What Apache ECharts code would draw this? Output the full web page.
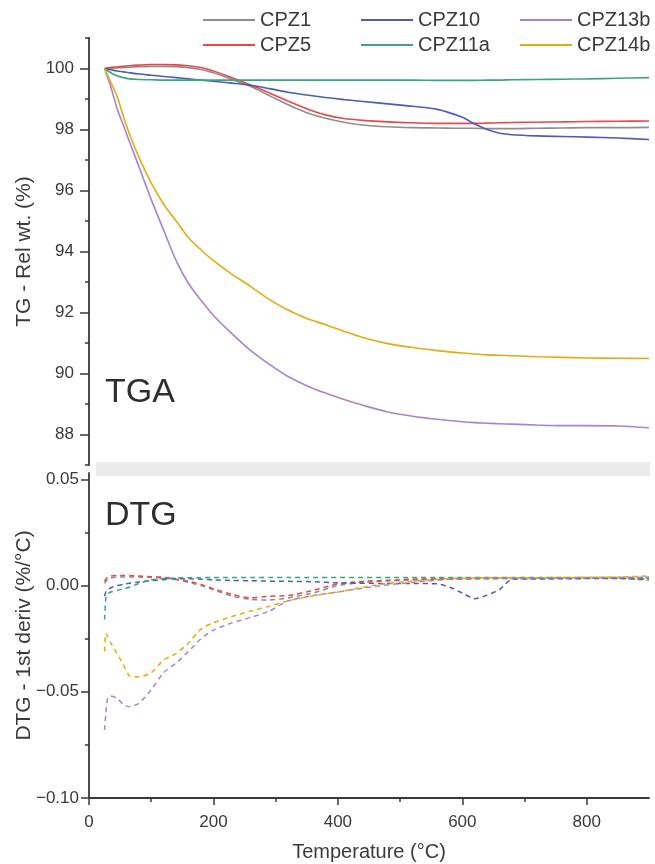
<!DOCTYPE html>
<html>
<head>
<meta charset="utf-8">
<script src="https://cdn.jsdelivr.net/npm/echarts@6/dist/echarts.min.js"></script>
<style>
  html, body { margin: 0; padding: 0; background: #fff; }
  #chart { width: 655px; height: 864px; }
</style>
</head>
<body>
<div id="chart"></div>
<script>
  // sample names (legend order) and colours
  const names = ['CPZ1', 'CPZ5', 'CPZ10', 'CPZ11a', 'CPZ13b', 'CPZ14b'];
  const colors = ['#8e8e8e', '#e8484a', '#4c5db6', '#3aa67c', '#a883d2', '#e3ac10'];

  // TGA: temperature (°C) and relative weight (%)
  const tgaTemp = [25, 35, 45, 55, 65, 80, 100, 120, 140, 160, 180, 200, 230, 260, 290, 320, 350, 380, 410, 440,
    480, 520, 560, 600, 620, 640, 660, 680, 720, 760, 800, 850, 900];
  const tgaCPZ1 = [100, 100.01, 100.02, 100.03, 100.04, 100.06, 100.07, 100.07, 100.06, 100.03, 99.97, 99.86, 99.64,
    99.41, 99.11, 98.81, 98.55, 98.37, 98.24, 98.15, 98.09, 98.06, 98.05, 98.04, 98.04, 98.03, 98.03, 98.03, 98.04,
    98.05, 98.06, 98.06, 98.07];
  const tgaCPZ5 = [100, 100.03, 100.05, 100.07, 100.09, 100.11, 100.13, 100.13, 100.12, 100.09, 100.03, 99.92, 99.7,
    99.46, 99.2, 98.93, 98.68, 98.48, 98.36, 98.3, 98.25, 98.22, 98.2, 98.2, 98.2, 98.21, 98.22, 98.23, 98.24, 98.25,
    98.26, 98.27, 98.28];
  const tgaCPZ10 = [100, 99.96, 99.92, 99.89, 99.86, 99.82, 99.78, 99.74, 99.7, 99.66, 99.62, 99.58, 99.52, 99.45,
    99.34, 99.22, 99.13, 99.05, 98.98, 98.92, 98.84, 98.76, 98.66, 98.4, 98.18, 98.0, 97.88, 97.83, 97.79, 97.77,
    97.75, 97.72, 97.67];
  const tgaCPZ11a = [100, 99.86, 99.76, 99.7, 99.66, 99.64, 99.63, 99.62, 99.62, 99.62, 99.62, 99.62, 99.62, 99.62,
    99.62, 99.62, 99.62, 99.62, 99.62, 99.62, 99.62, 99.62, 99.61, 99.61, 99.61, 99.62, 99.62, 99.63, 99.64, 99.65,
    99.66, 99.68, 99.7];
  const tgaCPZ13b = [100, 99.4, 98.7, 98.15, 97.6, 96.8, 95.7, 94.7, 93.7, 92.95, 92.4, 91.9, 91.3, 90.75, 90.3, 89.9,
    89.6, 89.36, 89.15, 88.96, 88.74, 88.6, 88.5, 88.42, 88.39, 88.37, 88.35, 88.34, 88.31, 88.29, 88.29, 88.28, 88.22];
  const tgaCPZ14b = [100, 99.55, 99.1, 98.45, 97.85, 97.1, 96.25, 95.55, 95.0, 94.45, 94.05, 93.7, 93.25, 92.85,
    92.42, 92.08, 91.8, 91.6, 91.38, 91.18, 90.98, 90.85, 90.75, 90.67, 90.64, 90.61, 90.6, 90.58, 90.55, 90.53,
    90.51, 90.5, 90.49];

  // DTG: first derivative (%/°C)
  const dtgTemp = [25, 27, 30, 35, 45, 55, 65, 80, 100, 120, 140, 160, 180, 200, 230, 260, 290, 320, 360, 400, 440,
    480, 520, 560, 580, 600, 620, 640, 660, 680, 720, 760, 800, 850, 900];
  const dtgCPZ1 = [0.001, 0.002, 0.003, 0.0035, 0.004, 0.004, 0.004, 0.004, 0.0038, 0.0035, 0.0028, 0.0015, 0,
    -0.002, -0.005, -0.0065, -0.0068, -0.0058, -0.0035, 0, 0.0015, 0.0022, 0.0026, 0.003, 0.003, 0.003, 0.0031,
    0.0031, 0.0032, 0.0032, 0.0033, 0.0033, 0.0034, 0.0034, 0.0025];
  const dtgCPZ5 = [0.002, 0.003, 0.004, 0.0045, 0.0047, 0.0047, 0.0047, 0.0045, 0.0042, 0.0039, 0.003, 0.002, 0.0005,
    -0.0015, -0.0042, -0.0058, -0.005, -0.0047, -0.0023, 0.0008, 0.002, 0.0025, 0.003, 0.0032, 0.0033, 0.0033,
    0.0034, 0.0034, 0.0035, 0.0035, 0.0035, 0.0036, 0.0037, 0.0036, 0.0035];
  const dtgCPZ10 = [-0.005, -0.003, -0.002, -0.001, 0, 0.0006, 0.0011, 0.0017, 0.0023, 0.0028, 0.0032, 0.0032, 0.003,
    0.0027, 0.0024, 0.0023, 0.0021, 0.002, 0.0018, 0.0013, 0.0011, 0.001, 0.001, 0.0008, -0.0008, -0.0035, -0.0062,
    -0.0045, -0.0018, 0.003, 0.0031, 0.0032, 0.0033, 0.0033, 0.003];
  const dtgCPZ11a = [-0.016, -0.006, -0.004, -0.003, -0.0023, -0.0015, -0.0008, 0.001, 0.0027, 0.0033, 0.0036, 0.0037,
    0.0037, 0.0038, 0.0038, 0.0038, 0.0038, 0.0038, 0.0038, 0.0038, 0.0038, 0.0038, 0.0038, 0.0038, 0.0038, 0.0038,
    0.0038, 0.0038, 0.0038, 0.0038, 0.0038, 0.0038, 0.0038, 0.0038, 0.0036];
  const dtgCPZ13b = [-0.068, -0.06, -0.053, -0.052, -0.053, -0.056, -0.057, -0.0555, -0.049, -0.041, -0.0365, -0.031,
    -0.025, -0.021, -0.0175, -0.015, -0.012, -0.0072, -0.0047, -0.003, -0.0012, 0.0003, 0.0015, 0.0025, 0.003,
    0.0032, 0.0033, 0.0034, 0.0035, 0.0035, 0.0035, 0.0036, 0.0037, 0.0038, 0.004];
  const dtgCPZ14b = [-0.031, -0.0225, -0.024, -0.027, -0.032, -0.037, -0.0425, -0.043, -0.041, -0.035, -0.032,
    -0.027, -0.0205, -0.0175, -0.0145, -0.012, -0.0097, -0.0072, -0.0048, -0.003, -0.0008, 0.001, 0.002, 0.003,
    0.0033, 0.0035, 0.0036, 0.0037, 0.0037, 0.0037, 0.0037, 0.0038, 0.0039, 0.004, 0.0045];

  // axis ticks
  const tgaMajor = [88, 90, 92, 94, 96, 98, 100];
  const tgaMinor = [87, 89, 91, 93, 95, 97, 99, 101];
  const dtgMajor = [-0.1, -0.05, 0, 0.05];
  const dtgMinor = [-0.075, -0.025, 0.025];
  const tempMajor = [0, 200, 400, 600, 800];
  const tempMinor = [100, 300, 500, 700];

  const tgaData = [tgaCPZ1, tgaCPZ5, tgaCPZ10, tgaCPZ11a, tgaCPZ13b, tgaCPZ14b];
  const dtgData = [dtgCPZ1, dtgCPZ5, dtgCPZ10, dtgCPZ11a, dtgCPZ13b, dtgCPZ14b];

  const axisColor = '#3a3a3a';
  const textColor = '#3a3a3a';
  const font = 'Liberation Sans, Arial, sans-serif';

  function pairs(xs, ys) {
    return xs.map((x, i) => [x, ys[i]]);
  }

  const series = [];
  names.forEach((n, i) => {
    series.push({
      name: n, type: 'line', xAxisIndex: 0, yAxisIndex: 0,
      symbol: 'none', smooth: 0.3, color: colors[i],
      lineStyle: {width: 1.6},
      data: pairs(tgaTemp, tgaData[i]),
    });
  });
  names.forEach((n, i) => {
    series.push({
      name: n, type: 'line', xAxisIndex: 2, yAxisIndex: 2,
      symbol: 'none', smooth: 0.2, color: colors[i],
      lineStyle: {width: 1.5, type: [5, 4]},
      data: pairs(dtgTemp, dtgData[i]),
    });
  });

  function legendCol(data, left) {
    return {
      data: data, left: left, top: 5, orient: 'vertical', itemGap: 5,
      icon: 'rect', itemWidth: 52, itemHeight: 2,
      textStyle: {fontSize: 20, color: textColor, fontFamily: font},
    };
  }

  const tickLabel = {fontSize: 17, color: textColor, fontFamily: font};
  const nameStyle = {fontSize: 20, color: textColor, fontFamily: font};
  const yNameStyle = {fontSize: 21, color: textColor, fontFamily: font};

  const chart = echarts.init(document.getElementById('chart'));
  chart.setOption({
    backgroundColor: '#fff',
    animation: false,
    legend: [
      legendCol(['CPZ1', 'CPZ5'], 198),
      legendCol(['CPZ10', 'CPZ11a'], 356),
      legendCol(['CPZ13b', 'CPZ14b'], 515),
    ],
    grid: [
      {left: 89, right: 6, top: 38, height: 427, outerBoundsMode: 'none'},
      {left: 89, right: 6, top: 473, bottom: 66, outerBoundsMode: 'none'},
    ],
    xAxis: [
      {gridIndex: 0, type: 'value', min: 0, max: 900, show: false},
      {gridIndex: 1, type: 'value', min: 0, max: 900, interval: 100, position: 'bottom',
        axisLine: {show: false, onZero: false}, splitLine: {show: false}, axisLabel: {show: false},
        axisTick: {customValues: tempMinor, length: 4, lineStyle: {color: axisColor, width: 1.5}}},
      {gridIndex: 1, type: 'value', min: 0, max: 900, interval: 100, position: 'bottom',
        name: 'Temperature (°C)', nameLocation: 'middle', nameGap: 44, nameTextStyle: nameStyle,
        nameMoveOverlap: false,
        axisLine: {onZero: false, lineStyle: {color: axisColor, width: 1.8}},
        splitLine: {show: false},
        axisTick: {customValues: tempMajor, length: 7, lineStyle: {color: axisColor, width: 1.5}},
        axisLabel: {customValues: tempMajor, margin: 16, ...tickLabel}},
    ],
    yAxis: [
      {gridIndex: 0, type: 'value', min: 87, max: 101, interval: 1, position: 'left',
        name: 'TG - Rel wt. (%)', nameLocation: 'middle', nameGap: 54, nameTextStyle: yNameStyle,
        nameMoveOverlap: false,
        axisLine: {show: true, lineStyle: {color: axisColor, width: 1.8}},
        splitLine: {show: false},
        axisTick: {customValues: tgaMajor, length: 9, lineStyle: {color: axisColor, width: 1.5}},
        axisLabel: {customValues: tgaMajor, margin: 15, ...tickLabel}},
      {gridIndex: 0, type: 'value', min: 87, max: 101, interval: 1, position: 'left',
        axisLine: {show: false}, splitLine: {show: false}, axisLabel: {show: false},
        axisTick: {customValues: tgaMinor, length: 4, lineStyle: {color: axisColor, width: 1.5}}},
      {gridIndex: 1, type: 'value', min: -0.1, max: 0.053, interval: 0.025, position: 'left',
        name: 'DTG - 1st deriv (%/°C)', nameLocation: 'middle', nameGap: 54, nameTextStyle: yNameStyle,
        nameMoveOverlap: false,
        axisLine: {show: true, onZero: false, lineStyle: {color: axisColor, width: 1.8}},
        splitLine: {show: false},
        axisTick: {customValues: dtgMajor, length: 8, lineStyle: {color: axisColor, width: 1.5}},
        axisLabel: {customValues: dtgMajor, margin: 10, ...tickLabel,
          formatter: v => (v < 0 ? '\u2212' : '') + Math.abs(v).toFixed(2)}},
      {gridIndex: 1, type: 'value', min: -0.1, max: 0.053, interval: 0.025, position: 'left',
        axisLine: {show: false}, splitLine: {show: false}, axisLabel: {show: false},
        axisTick: {customValues: dtgMinor, length: 4, lineStyle: {color: axisColor, width: 1.5}}},
    ],
    graphic: [
      {type: 'rect', left: 96, top: 462, shape: {width: 554, height: 14}, style: {fill: '#eaeaea'}, silent: true},
      {type: 'text', left: 105, top: 376, style: {text: 'TGA', fontSize: 34, fill: '#2e2e2e', fontFamily: font}},
      {type: 'text', left: 105, top: 499, style: {text: 'DTG', fontSize: 34, fill: '#2e2e2e', fontFamily: font}},
    ],
    series: series,
  });
</script>
</body>
</html>
